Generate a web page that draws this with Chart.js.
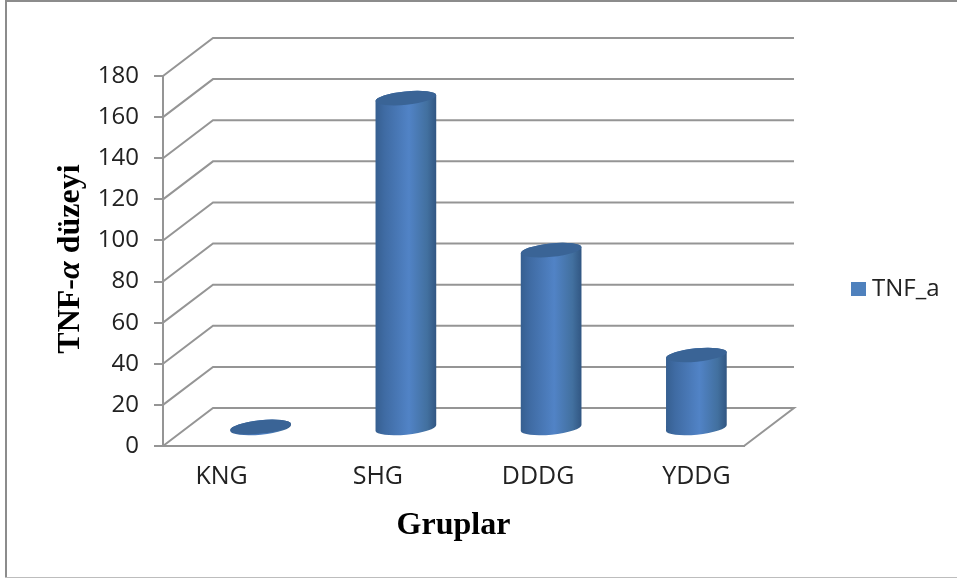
<!DOCTYPE html>
<html lang="en">

<head>
    <meta charset="utf-8">
    <script src="https://cdn.jsdelivr.net/npm/chart.js@4"></script>
    <title> TNF-a duzeyi </title>
    <style>
        body { margin: 0; background: #fff; }
        canvas { display: block; }
    </style>
</head>

<body>
    <canvas id="chart" width="957" height="578"></canvas>

    <script>
        const categories = ["KNG", "SHG", "DDDG", "YDDG"];
        const tnfValues = [1, 161, 87, 36];
        const seriesName = "TNF_a";
        const xTitle = "Gruplar";
        const yTitleParts = ["TNF-", "α", " düzeyi"];

        const gridColor = "#959595";
        const textColor = "#222222";

        // the 3D box: how far the back wall sits from the front axes
        const depthX = 50, depthY = 38;
        // cylinders stand a bit in front of the middle of the floor
        const barLift = 17;
        const labelNudge = [-14, -3, 12, 25];

        function drawFrame(ctx) {
            ctx.fillStyle = "#8c8c8c";
            ctx.fillRect(5, 0, 2, 578);
            ctx.fillRect(5, 0, 952, 2);
            ctx.fillStyle = "#bdbdbd";
            ctx.fillRect(5, 577, 952, 1);
        }

        function drawWalls(chart) {
            const ctx = chart.ctx, y = chart.scales.y, area = chart.chartArea;
            ctx.save();
            ctx.strokeStyle = gridColor;
            ctx.lineWidth = 2;
            y.ticks.forEach((t, i) => {
                const py = y.getPixelForTick(i);
                ctx.beginPath();
                ctx.moveTo(area.left, py);
                ctx.lineTo(area.left + depthX, py - depthY);
                ctx.lineTo(area.right + depthX, py - depthY);
                if (i === 0) ctx.lineTo(area.right, py);
                ctx.stroke();
            });
            ctx.restore();
        }

        function cylinder(ctx, cx, top, base, rx) {
            const ry = 6.7, rot = -0.1;
            const grad = ctx.createLinearGradient(cx - rx, 0, cx + rx, 0);
            grad.addColorStop(0, "#365f90");
            grad.addColorStop(0.15, "#3f6ba3");
            grad.addColorStop(0.55, "#5183c6");
            grad.addColorStop(0.85, "#42709f");
            grad.addColorStop(1, "#315682");

            ctx.beginPath();
            ctx.ellipse(cx, base, rx, ry, rot, 0, Math.PI);
            ctx.ellipse(cx, top, rx, ry, rot, Math.PI, 0);
            ctx.closePath();
            ctx.fillStyle = grad;
            ctx.fill();

            ctx.beginPath();
            ctx.ellipse(cx, top, rx, ry, rot, 0, Math.PI * 2);
            ctx.fillStyle = "#3a6496";
            ctx.fill();
        }

        const box3d = {
            id: "box3d",
            beforeDraw(chart) {
                drawFrame(chart.ctx);
                drawWalls(chart);
            },
            afterDatasetsDraw(chart) {
                chart.getDatasetMeta(0).data.forEach(bar => {
                    cylinder(chart.ctx, bar.x + depthX / 2, bar.y - barLift, bar.base - barLift, bar.width / 2);
                });
            },
            afterDraw(chart) {
                const ctx = chart.ctx, x = chart.scales.x, area = chart.chartArea;
                ctx.save();
                ctx.fillStyle = textColor;

                // category labels sit off-centre in the original
                ctx.font = "25px 'Open Sans'";
                ctx.textAlign = "center";
                ctx.textBaseline = "middle";
                categories.forEach((c, i) => {
                    ctx.fillText(c, x.getPixelForTick(i) + labelNudge[i], 477);
                });

                // legend
                ctx.fillStyle = "#4f81bd";
                ctx.fillRect(851, 282, 15, 14);
                ctx.fillStyle = textColor;
                ctx.font = "24px 'Open Sans'";
                ctx.textAlign = "left";
                ctx.fillText(seriesName, 872, 289);

                // y title, only the alpha is italic
                const fonts = ["bold 32px 'Liberation Serif'", "italic bold 32px 'Liberation Serif'", "bold 32px 'Liberation Serif'"];
                let w = 0;
                yTitleParts.forEach((p, i) => { ctx.font = fonts[i]; w += ctx.measureText(p).width; });
                ctx.translate(71, (area.top + area.bottom) / 2 - 2);
                ctx.rotate(-Math.PI / 2);
                ctx.fillStyle = "#000";
                let pos = -w / 2;
                yTitleParts.forEach((p, i) => {
                    ctx.font = fonts[i];
                    ctx.fillText(p, pos, 0);
                    pos += ctx.measureText(p).width;
                });
                ctx.restore();
            }
        };

        new Chart(document.getElementById("chart"), {
            type: "bar",
            data: {
                labels: categories,
                datasets: [{
                    label: seriesName,
                    data: tnfValues,
                    backgroundColor: "transparent",
                    barPercentage: 0.42,
                    categoryPercentage: 1
                }]
            },
            options: {
                responsive: false,
                animation: false,
                layout: { autoPadding: false, padding: { top: 76, right: 213, bottom: 0, left: 0 } },
                plugins: { legend: { display: false }, tooltip: { enabled: false } },
                scales: {
                    x: {
                        grid: { display: false },
                        border: { color: gridColor, width: 2 },
                        ticks: { display: false },
                        title: {
                            display: true,
                            text: xTitle,
                            color: "#000",
                            font: { family: "'Liberation Serif'", size: 32, weight: "bold" },
                            padding: { top: 0, bottom: 33 }
                        },
                        afterFit(s) { s.height = 132; }
                    },
                    y: {
                        min: 0,
                        max: 180,
                        ticks: {
                            stepSize: 20,
                            color: textColor,
                            font: { family: "'Open Sans'", size: 24 },
                            padding: 15
                        },
                        grid: { drawOnChartArea: false, color: gridColor, lineWidth: 2, tickLength: 9 },
                        border: { color: gridColor, width: 2 },
                        afterFit(s) { s.width = 163; }
                    }
                }
            },
            plugins: [box3d]
        });
    </script>
</body>

</html>
